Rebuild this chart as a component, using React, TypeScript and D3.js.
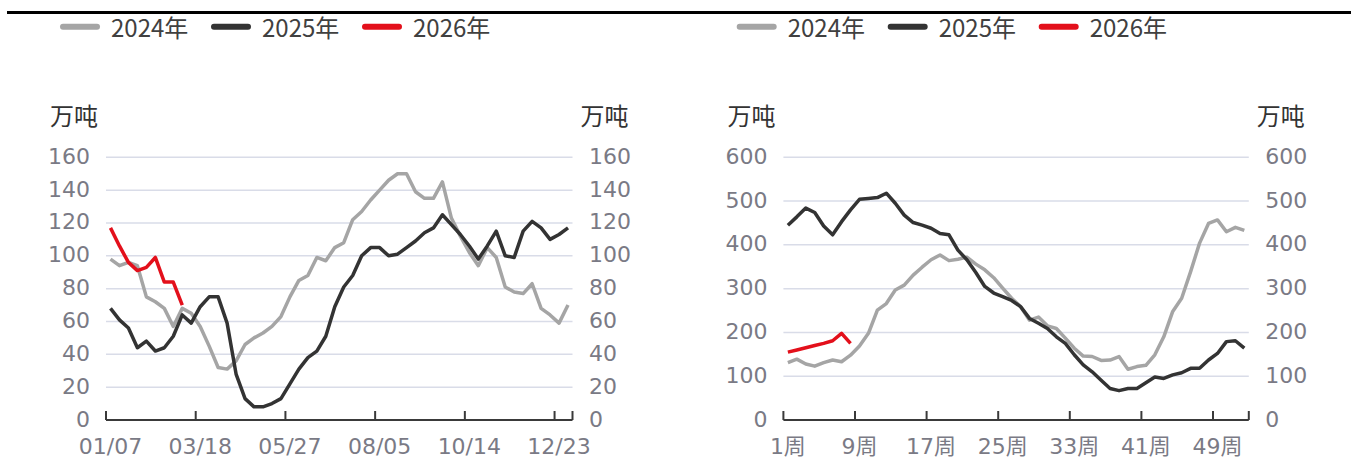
import React from "react";
import * as d3 from "d3";

// ---------- data ----------
const weeks = d3.range(52); // 52 weekly categories

// Left chart (dates)
const leftTickLabels = ["01/07", "03/18", "05/27", "08/05", "10/14", "12/23"];
const leftTickIndex = [0, 10, 20, 30, 40, 50];
const leftBoundaryTicks = [0, 10, 20, 30, 40, 50, 52];
const leftYTicks = [0, 20, 40, 60, 80, 100, 120, 140, 160];

const left2024 = [98, 94, 96, 94, 75, 72, 68, 57, 68, 65, 57, 45, 32, 31, 36, 46, 50, 53, 57, 63, 75, 85, 88, 99, 97, 105, 108, 122, 127, 134, 140, 146, 150, 150, 139, 135, 135, 145, 123, 112, 102, 94, 105, 99, 81, 78, 77, 83, 68, 64, 59, 70];
const left2025 = [68, 61, 56, 44, 48, 42, 44, 51, 64, 59, 69, 75, 75, 59, 28, 13, 8, 8, 10, 13, 22, 31, 38, 42, 51, 69, 81, 88, 100, 105, 105, 100, 101, 105, 109, 114, 117, 125, 119, 113, 106, 98, 106, 115, 100, 99, 115, 121, 117, 110, 113, 117];
const left2026 = [117, 106, 96, 91, 93, 99, 84, 84, 70];

// Right chart (weeks)
const rightTickLabels = ["1周", "9周", "17周", "25周", "33周", "41周", "49周"];
const rightTickIndex = [0, 8, 16, 24, 32, 40, 48];
const rightBoundaryTicks = [0, 8, 16, 24, 32, 40, 48, 52];
const rightYTicks = [0, 100, 200, 300, 400, 500, 600];

const right2024 = [131, 139, 128, 123, 131, 137, 133, 148, 169, 198, 251, 266, 297, 308, 331, 349, 366, 377, 364, 367, 372, 356, 343, 325, 301, 278, 259, 228, 235, 215, 209, 187, 164, 146, 145, 136, 137, 145, 116, 122, 125, 149, 190, 248, 278, 339, 404, 449, 457, 430, 440, 433];
const right2025 = [445, 464, 484, 474, 443, 423, 453, 480, 504, 506, 508, 518, 495, 468, 451, 445, 438, 426, 423, 388, 366, 337, 305, 290, 282, 273, 259, 232, 221, 209, 190, 175, 149, 126, 110, 91, 72, 67, 72, 72, 85, 98, 95, 103, 108, 118, 118, 137, 152, 179, 181, 164];
const right2026 = [155, 160, 165, 170, 175, 181, 198, 175];

const seriesNames = ["2024年", "2025年", "2026年"];
const seriesColors = ["#a5a5a5", "#333333", "#e3101b"];
const unitLabel = "万吨";

// ---------- styles ----------
const NUM_FONT = "'DejaVu Sans', 'Noto Sans CJK SC', sans-serif";
const CJK_FONT = "'Noto Sans CJK SC', sans-serif";
const TICK_COLOR = "#7a7a85";
const GRID_COLOR = "#d9dce8";

type PanelProps = {
  x0: number;
  x1: number;
  yMax: number;
  yTicks: number[];
  tickLabels: string[];
  tickIndex: number[];
  boundaryTicks: number[];
  series: number[][];
};

function Panel({ x0, x1, yMax, yTicks, tickLabels, tickIndex, boundaryTicks, series }: PanelProps) {
  const yTop = 157.3;
  const yBot = 420;
  const x = d3.scaleBand<number>().domain(weeks).range([x0, x1]).padding(0);
  const y = d3.scaleLinear().domain([0, yMax]).range([yBot, yTop]);
  const bw = x.bandwidth();
  const line = d3
    .line<number>()
    .x((_, i) => (x(i) as number) + bw / 2)
    .y((d) => y(d))
    .curve(d3.curveLinear);

  return (
    <g>
      {/* gridlines */}
      {yTicks.filter((t) => t > 0).map((t) => (
        <line key={"g" + t} x1={x0} x2={x1} y1={y(t)} y2={y(t)} stroke={GRID_COLOR} strokeWidth={1.5} />
      ))}
      {/* y labels left & right */}
      {yTicks.map((t) => (
        <text key={"l" + t} x={x0 - 16} y={y(t) + 6.5} textAnchor="end" fontFamily={NUM_FONT} fontSize={22} fill={TICK_COLOR}>
          {t}
        </text>
      ))}
      {yTicks.map((t) => (
        <text key={"r" + t} x={x1 + 16.5} y={y(t) + 6.5} textAnchor="start" fontFamily={NUM_FONT} fontSize={22} fill={TICK_COLOR}>
          {t}
        </text>
      ))}
      {/* units */}
      <text x={x0 - 56} y={114} dominantBaseline="central" fontFamily={CJK_FONT} fontSize={24} fill="#333">
        {unitLabel}
      </text>
      <text x={x1 + 56} y={114} dominantBaseline="central" textAnchor="end" fontFamily={CJK_FONT} fontSize={24} fill="#333">
        {unitLabel}
      </text>
      {/* series */}
      {series.map((s, k) => (
        <path key={"s" + k} d={line(s) || ""} fill="none" stroke={seriesColors[k]} strokeWidth={3.5} strokeLinejoin="round" strokeLinecap="butt" />
      ))}
      {/* x axis */}
      <line x1={x0} x2={x1} y1={yBot} y2={yBot} stroke="#3a3a3a" strokeWidth={2} />
      {boundaryTicks.map((b) => {
        const xx = b >= weeks.length ? x1 : (x(b) as number);
        return <line key={"t" + b} x1={xx} x2={xx} y1={yBot} y2={yBot - 9} stroke="#3a3a3a" strokeWidth={2} />;
      })}
      {tickLabels.map((lab, i) => (
        <text key={"x" + i} x={(x(tickIndex[i]) as number) + bw / 2} y={454} textAnchor="middle" fontFamily={NUM_FONT} fontSize={22} fill={TICK_COLOR}>
          {lab}
        </text>
      ))}
    </g>
  );
}

function Legend({ x }: { x: number }) {
  return (
    <g>
      {seriesNames.map((n, i) => {
        const sx = x + i * 151;
        return (
          <g key={n}>
            <rect x={sx} y={23.7} width={40} height={6} rx={3} fill={seriesColors[i]} />
            <text x={sx + 51} y={26} dominantBaseline="central" fontFamily={CJK_FONT} fontSize={24} fill="#404040">
              {n}
            </text>
          </g>
        );
      })}
    </g>
  );
}

export default function App() {
  return (
    <svg width={1351} height={459} style={{ position: "absolute", left: 0, top: 0, background: "#fff" }}>
      <rect width={1351} height={459} fill="#fff" />
      <line x1={7} x2={1351} y1={12.5} y2={12.5} stroke="#000" strokeWidth={3} />
      <Legend x={60} />
      <Legend x={736.7} />
      <Panel
        x0={106}
        x1={572.5}
        yMax={160}
        yTicks={leftYTicks}
        tickLabels={leftTickLabels}
        tickIndex={leftTickIndex}
        boundaryTicks={leftBoundaryTicks}
        series={[left2024, left2025, left2026]}
      />
      <Panel
        x0={783.4}
        x1={1248.8}
        yMax={600}
        yTicks={rightYTicks}
        tickLabels={rightTickLabels}
        tickIndex={rightTickIndex}
        boundaryTicks={rightBoundaryTicks}
        series={[right2024, right2025, right2026]}
      />
    </svg>
  );
}
